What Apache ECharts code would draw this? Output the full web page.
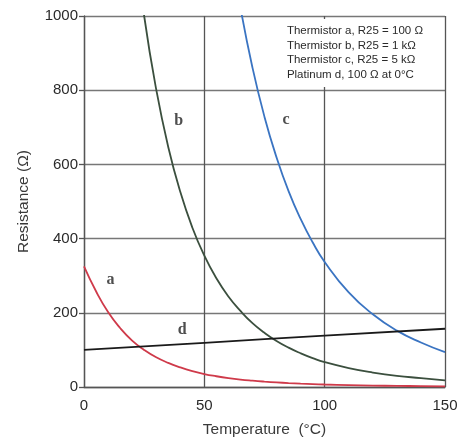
<!DOCTYPE html>
<html><head><meta charset="utf-8">
<script src="https://cdn.jsdelivr.net/npm/echarts@6/dist/echarts.min.js"></script>
<style>html,body{margin:0;padding:0;background:#fff}#c{width:463px;height:443px}</style>
</head><body><div id="c"></div>
<script>
// Temperature (°C) and resistance (Ω) values
const tempA = [0,5,10,15,20,25,30,35,40,45,50,55,60,65,70,75,80,85,90,95,100,110,120,130,140,150];
const resA  = [325,258,202,159,125,100,80,65,53,43,35,29,24,20,17,14.5,12.4,10.5,9,7.8,6.7,5.1,3.9,3,2.4,1.9];
const tempB = [20,25,30,35,40,45,50,55,60,65,70,75,80,85,90,95,100,110,120,130,140,150];
const resB  = [1257,1000,802,647,526,430,354,293,244,205,172,146,124,106,91,78,67,51,39,30,24,18];
const tempC = [60,65,70,75,80,85,90,95,100,110,120,130,140,150];
const resC  = [1222,1023,861,728,619,528,453,390,337,255,196,152,120,94];
const tempD = [0,50,100,150];
const resD  = [100,119,138.5,157];
const curveLabels = [[11,288,'a'],[39.4,717,'b'],[84,721,'c'],[40.8,154,'d']];
const legendLines = ['Thermistor a, R25 = 100 \u03a9','Thermistor b, R25 = 1 k\u03a9','Thermistor c, R25 = 5 k\u03a9','Platinum d, 100 \u03a9 at 0\u00b0C'];
const xTicks = [0,50,100,150];
const yTicks = [0,200,400,600,800,1000];

const zip = (xs, ys) => xs.map((x, i) => [x, ys[i]]);
const chart = echarts.init(document.getElementById('c'));
const lineSeries = (name, xs, ys, color) => ({
  name, type: 'line', data: zip(xs, ys), smooth: true, symbol: 'none', clip: true,
  lineStyle: { color, width: 1.8 }, z: 3
});
chart.setOption({
  animation: false,
  backgroundColor: '#fff',
  title: {
    text: legendLines.join('\n'),
    right: 19, top: 19,
    backgroundColor: '#fff',
    padding: [5, 21, 5, 5],
    textStyle: { fontFamily: 'Liberation Sans, Arial', fontSize: 11.5, fontWeight: 'normal', color: '#2a2a2a', lineHeight: 14.5 }
  },
  grid: { left: 84, right: 18, top: 16, bottom: 53.5 },
  xAxis: {
    type: 'value', min: xTicks[0], max: xTicks[xTicks.length - 1], interval: 50,
    name: 'Temperature  (\u00b0C)', nameLocation: 'middle', nameGap: 35,
    nameTextStyle: { fontFamily: 'Liberation Sans, Arial', fontSize: 15.5, color: '#3a3a3a' },
    axisLine: { lineStyle: { color: '#555', width: 1.3 } },
    axisTick: { show: false },
    axisLabel: { fontFamily: 'Liberation Sans, Arial', fontSize: 15, color: '#2a2a2a', margin: 11 },
    splitLine: { show: true, lineStyle: { color: '#555', width: 1.3 } }
  },
  yAxis: {
    type: 'value', min: yTicks[0], max: yTicks[yTicks.length - 1], interval: 200,
    name: 'Resistance (\u03a9)', nameLocation: 'middle', nameGap: 52,
    nameTextStyle: { fontFamily: 'Liberation Sans, Arial', fontSize: 15.5, color: '#3a3a3a' },
    axisLine: { show: true, lineStyle: { color: '#555', width: 1.3 } },
    axisTick: { show: true, length: 5, lineStyle: { color: '#555', width: 1.3 } },
    axisLabel: { fontFamily: 'Liberation Sans, Arial', fontSize: 15, color: '#2a2a2a', margin: 6, formatter: v => String(v) },
    splitLine: { show: true, lineStyle: { color: '#777', width: 1.3 } }
  },
  series: [
    lineSeries('a', tempA, resA, '#cf3a4a'),
    lineSeries('b', tempB, resB, '#3b4f3e'),
    lineSeries('c', tempC, resC, '#3a74c2'),
    lineSeries('d', tempD, resD, '#1a1a1a'),
    {
      type: 'scatter', data: curveLabels, symbolSize: 0, z: 4,
      label: { show: true, position: 'inside', formatter: p => p.value[2],
        fontFamily: 'Liberation Serif, Times New Roman', fontWeight: 'bold', fontSize: 16, color: '#222' }
    }
  ]
});
</script></body></html>
